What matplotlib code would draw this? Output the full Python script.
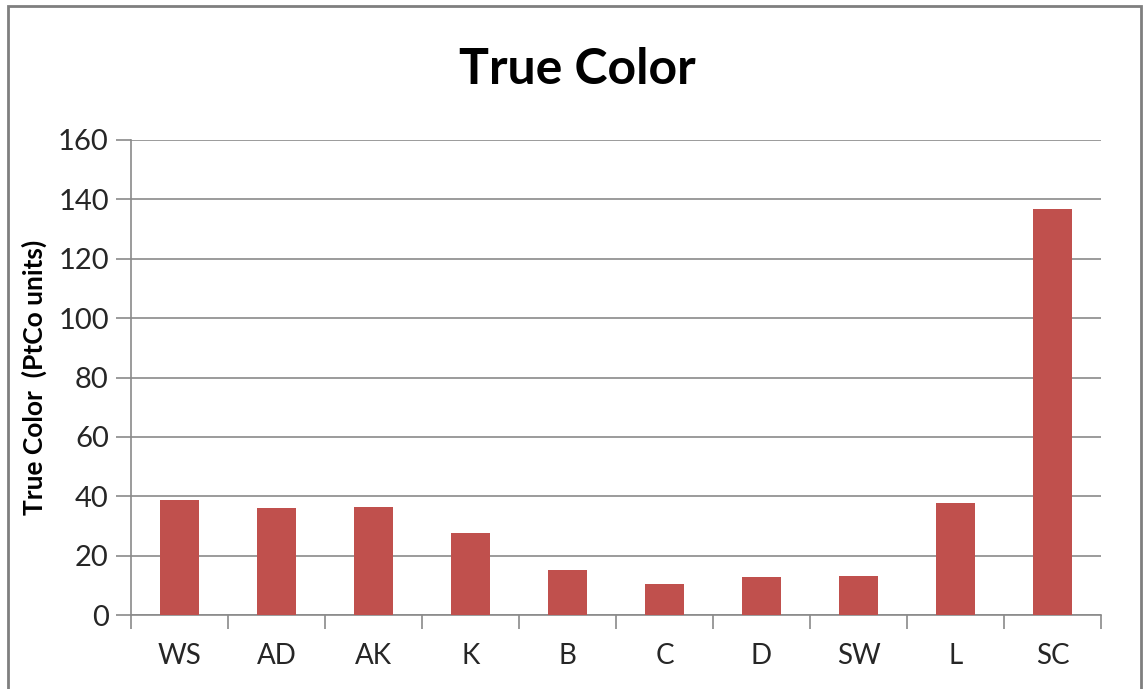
import numpy as np
from matplotlib import pyplot as plt
from matplotlib.patches import Rectangle

plt.rcParams['font.family'] = ['Lato', 'DejaVu Sans']

sites = ['WS', 'AD', 'AK', 'K', 'B', 'C', 'D', 'SW', 'L', 'SC']
true_color = [38.9, 35.9, 36.4, 27.6, 15.2, 10.6, 12.7, 13.1, 37.8, 136.6]
y_ticks = [0, 20, 40, 60, 80, 100, 120, 140, 160]

grid_col = '#8a8a8a'

fig = plt.figure(figsize=(11.43, 6.89), dpi=100)
ax = fig.add_axes([131 / 1143, 74 / 689, 970 / 1143, 475 / 689])

x = np.arange(len(sites))
ax.bar(x, true_color, width=0.41, color='#C0504D', zorder=3)

ax.set_xlim(-0.5, len(sites) - 0.5)
ax.set_ylim(0, 160)
ax.set_yticks(y_ticks)
ax.set_yticklabels([str(v) for v in y_ticks], fontsize=21, color='#262626')
ax.set_xticks(x)
ax.set_xticklabels(sites, fontsize=20, color='#262626')
ax.tick_params(axis='x', length=0, pad=20)
ax.tick_params(axis='y', length=11, width=1.2, color=grid_col, pad=5)

# category boundary tick marks below the axis
ax.set_xticks(np.arange(-0.5, len(sites), 1.0), minor=True)
ax.tick_params(axis='x', which='minor', length=10, width=1.2, color=grid_col)

ax.grid(axis='y', color=grid_col, linewidth=1.2, zorder=0)
for side in ['top', 'right']:
    ax.spines[side].set_visible(False)
ax.spines['left'].set_color(grid_col)
ax.spines['bottom'].set_color(grid_col)
ax.spines['left'].set_linewidth(1.2)
ax.spines['bottom'].set_linewidth(1.2)

ax.set_ylabel('True Color  (PtCo units)', fontsize=19, fontweight='bold', labelpad=8)
fig.text(577 / 1143, 1 - 70 / 689, 'True Color', fontsize=36, fontweight='bold',
         ha='center', va='center')

# outer chart border
fig.patches.append(Rectangle((8 / 1143, -0.02), 1133 / 1143, 1 - 6 / 689 + 0.02,
                             transform=fig.transFigure, fill=False,
                             edgecolor='#7f7f7f', linewidth=2))

fig.savefig('out.png', dpi=100)
plt.close(fig)
